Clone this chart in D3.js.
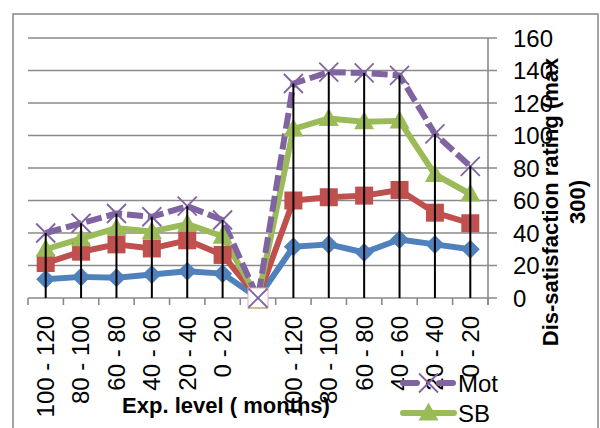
<!DOCTYPE html>
<html>
<head>
<meta charset="utf-8">
<script src="https://cdn.jsdelivr.net/npm/d3@7"></script>
<style>
    body { margin: 0; background: #fff; }
    svg { display: block; font-family: "Liberation Sans", Arial, sans-serif; }
</style>
</head>
<body>
<div id="chart"></div>
<script>
// categories (the blank one in the middle separates the two groups)
const categories = ['100 - 120', '80 - 100', '60 - 80', '40 - 60', '20 - 40', '0 - 20', '',
    '100 - 120', '80 - 100', '60 - 80', '40 - 60', '20 - 40', '0 - 20'];

const blueValues   = [11.5, 13, 12.5, 14.5, 16.5, 15, 0, 31.5, 33, 28, 36, 33, 30];
const redValues    = [21.5, 28.5, 33, 30.5, 35.5, 26.5, 0, 60, 62, 63, 66.5, 52.5, 46];
const sbValues     = [30, 36.5, 43, 41, 45.5, 38, 0, 104, 110.5, 108.5, 109, 76, 64];
const motValues    = [40, 46, 52, 50, 56.5, 48, 0, 132, 139, 138.5, 137, 101, 81];

const yTicks = [0, 20, 40, 60, 80, 100, 120, 140, 160];

const xTitle = 'Exp. level ( months)';
const yTitle = ['Dis-satisfaction rating (max', '300)'];

function drawChart() {

    const width = 600;
    const height = 428;
    const plot = {left: 28, right: 488, top: 38, bottom: 298};

    const series = [
        {name: null,  color: '#4f81bd', shape: 'diamond',  values: blueValues},
        {name: null,  color: '#c0504d', shape: 'square',   values: redValues},
        {name: 'SB',  color: '#9bbb59', shape: 'triangle', values: sbValues},
        {name: 'Mot', color: '#8064a2', shape: 'cross',    values: motValues, dash: '16,5'}
    ];

    const svg = d3.select("#chart").append("svg")
        .attr("width", width)
        .attr("height", height)
        .attr("viewBox", [0, 0, width, height]);

    svg.append("rect")
        .attr("width", width)
        .attr("height", height)
        .attr("fill", "#fff");

    // chart frame
    svg.append("rect")
        .attr("x", 13)
        .attr("y", 14)
        .attr("width", 585)
        .attr("height", 430)
        .attr("fill", "none")
        .attr("stroke", "#878787")
        .attr("stroke-width", 1.5);

    const x = d3.scaleBand()
        .domain(d3.range(categories.length))
        .range([plot.left, plot.right]);

    const y = d3.scaleLinear()
        .domain([0, 160])
        .range([plot.bottom, plot.top]);

    const cx = i => x(i) + x.bandwidth() / 2;

    // horizontal gridlines + right axis
    svg.append("g")
        .selectAll("line")
        .data(yTicks)
        .join("line")
            .attr("x1", plot.left)
            .attr("x2", plot.right + 9)
            .attr("y1", d => y(d))
            .attr("y2", d => y(d))
            .attr("stroke", "#8a8a8a")
            .attr("stroke-width", 1.6);

    svg.append("line")
        .attr("x1", plot.right)
        .attr("x2", plot.right)
        .attr("y1", y(160))
        .attr("y2", y(0) + 7)
        .attr("stroke", "#8a8a8a")
        .attr("stroke-width", 1.6);

    svg.append("g")
        .selectAll("text")
        .data(yTicks)
        .join("text")
            .attr("x", 513)
            .attr("y", d => y(d))
            .attr("dy", "0.36em")
            .attr("font-size", 24)
            .text(d => d);

    // category ticks on the x axis
    svg.append("g")
        .selectAll("line")
        .data(d3.range(categories.length + 1))
        .join("line")
            .attr("x1", i => plot.left + i * x.bandwidth())
            .attr("x2", i => plot.left + i * x.bandwidth())
            .attr("y1", y(0))
            .attr("y2", y(0) + 7)
            .attr("stroke", "#8a8a8a")
            .attr("stroke-width", 1.6);

    svg.append("g")
        .selectAll("text")
        .data(categories)
        .join("text")
            .attr("transform", (d, i) => `translate(${cx(i)},316) rotate(-90)`)
            .attr("text-anchor", "end")
            .attr("dy", "0.35em")
            .attr("font-size", 24)
            .text(d => d);

    // series lines
    const line = d3.line()
        .x((d, i) => cx(i))
        .y(d => y(d));

    svg.append("g")
        .selectAll("path")
        .data(series)
        .join("path")
            .attr("d", d => line(d.values))
            .attr("fill", "none")
            .attr("stroke", d => d.color)
            .attr("stroke-width", 6)
            .attr("stroke-dasharray", d => d.dash || null)
            .attr("stroke-linejoin", "round");

    function marker(g, s, px, py) {
        if (s.shape === 'diamond') {
            g.append("path")
                .attr("d", `M${px},${py - 9.5}L${px + 9.5},${py}L${px},${py + 9.5}L${px - 9.5},${py}Z`)
                .attr("fill", s.color);
        } else if (s.shape === 'square') {
            g.append("rect")
                .attr("x", px - 9).attr("y", py - 9)
                .attr("width", 18).attr("height", 18)
                .attr("fill", s.color);
        } else if (s.shape === 'triangle') {
            g.append("path")
                .attr("d", `M${px},${py - 10.5}L${px + 10},${py + 7.5}L${px - 10},${py + 7.5}Z`)
                .attr("fill", s.color);
        } else {
            g.append("path")
                .attr("d", `M${px - 9.5},${py - 9.5}L${px + 9.5},${py + 9.5}M${px + 9.5},${py - 9.5}L${px - 9.5},${py + 9.5}`)
                .attr("stroke", s.color)
                .attr("stroke-width", 1.8);
        }
    }

    // markers; zero points sit in the gap and show as an empty box
    const markers = svg.append("g");
    series.forEach(s => {
        s.values.forEach((v, i) => {
            if (v === 0) return;
            marker(markers, s, cx(i), y(v));
        });
    });

    const gaps = d3.range(categories.length).filter(i => series.every(s => s.values[i] === 0));
    gaps.forEach(i => {
        markers.append("rect")
            .attr("x", cx(i) - 10).attr("y", y(0) - 10)
            .attr("width", 20).attr("height", 20)
            .attr("fill", "#fff")
            .attr("stroke", "#e8a9b1")
            .attr("stroke-width", 1);
        markers.append("line")
            .attr("x1", cx(i) - 10).attr("x2", cx(i) + 10)
            .attr("y1", y(0) + 10).attr("y2", y(0) + 10)
            .attr("stroke", "#a8a84a");
        marker(markers, series[3], cx(i), y(0));
    });

    // drop lines from the highest point in each category
    svg.append("g")
        .selectAll("line")
        .data(d3.range(categories.length).filter(i => d3.max(series, s => s.values[i]) > 0))
        .join("line")
            .attr("x1", i => cx(i))
            .attr("x2", i => cx(i))
            .attr("y1", i => y(d3.max(series, s => s.values[i])))
            .attr("y2", y(0))
            .attr("stroke", "#000")
            .attr("stroke-width", 2);

    // axis titles
    svg.append("text")
        .attr("x", 226)
        .attr("y", 413)
        .attr("text-anchor", "middle")
        .attr("font-size", 22)
        .attr("font-weight", "bold")
        .text(xTitle);

    svg.append("g")
        .selectAll("text")
        .data(yTitle)
        .join("text")
            .attr("transform", (d, i) => `translate(${558 + i * 27},202) rotate(-90)`)
            .attr("text-anchor", "middle")
            .attr("font-size", 22)
            .attr("font-weight", "bold")
            .text(d => d);

    // legend (listed from the last series; the rest falls below the picture)
    const legendItems = series.slice().reverse().filter(s => s.name);
    const legend = svg.append("g")
        .selectAll("g")
        .data(legendItems)
        .join("g")
            .attr("transform", (d, i) => `translate(0,${383 + i * 30})`);

    legend.append("line")
        .attr("x1", 403)
        .attr("x2", 454)
        .attr("stroke", d => d.color)
        .attr("stroke-width", 6)
        .attr("stroke-linecap", "round")
        .attr("stroke-dasharray", d => d.dash ? '14,22' : null);

    legend.each(function(d) {
        marker(d3.select(this), d, 428.5, 0);
    });

    legend.append("text")
        .attr("x", 458)
        .attr("dy", "0.36em")
        .attr("font-size", 24)
        .text(d => d.name);
}

drawChart();
</script>
</body>
</html>
